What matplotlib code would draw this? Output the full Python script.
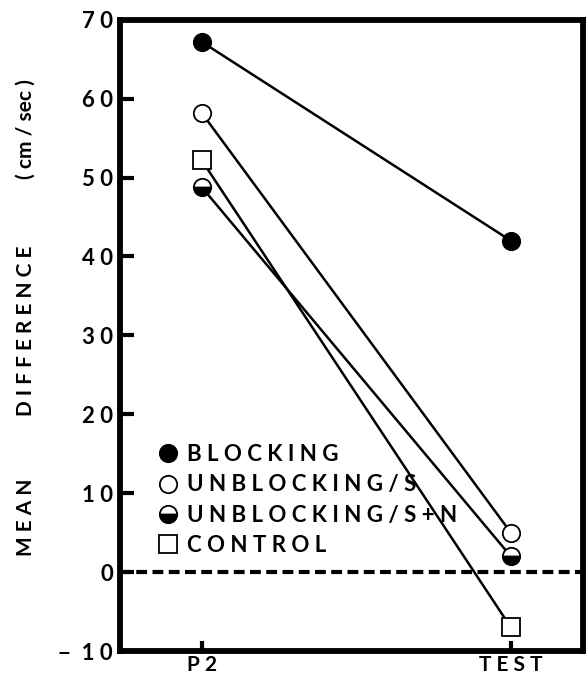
import numpy as np
import matplotlib
matplotlib.use('Agg')
import matplotlib.pyplot as plt
from matplotlib.lines import Line2D

plt.rcParams['font.family'] = ['Lato', 'DejaVu Sans']
plt.rcParams['font.weight'] = 'bold'

# Data
phases = ['P 2', 'T E S T']
blocking = [67.2, 42.0]
unblocking_s = [58.2, 5.0]
unblocking_sn = [48.8, 2.0]
control = [52.2, -7.0]

yticks = [-10, 0, 10, 20, 30, 40, 50, 60, 70]
ytick_labels = ['\u2212  1 0', '0', '1 0', '2 0', '3 0', '4 0', '5 0', '6 0', '7 0']
legend_labels = ['B L O C K I N G', 'U N B L O C K I N G / S',
                 'U N B L O C K I N G / S + N', 'C O N T R O L']

fig = plt.figure(figsize=(5.87, 6.81), dpi=100)
ax = fig.add_axes([0.204, 0.044, 0.789, 0.927])

xpos = np.arange(len(phases))
lw = 1.8
ms = 12.5
mew = 1.3

ax.plot(xpos, unblocking_sn, color='black', lw=lw, marker='o', ms=ms,
        mfc='black', mfcalt='white', fillstyle='bottom', mec='black', mew=mew, zorder=3)
ax.plot(xpos, control, color='black', lw=lw, marker='s', ms=ms,
        mfc='white', mec='black', mew=mew, zorder=3)
ax.plot(xpos, unblocking_s, color='black', lw=lw, marker='o', ms=ms,
        mfc='white', mec='black', mew=mew, zorder=3)
ax.plot(xpos, blocking, color='black', lw=lw, marker='o', ms=ms,
        mfc='black', mec='black', mew=mew, zorder=3)

ax.axhline(0, color='black', lw=3.0, ls=(0, (2.6, 1.3)), zorder=2)

ax.set_xlim(-0.265, 1.233)
ax.set_ylim(-10, 70)
ax.set_xticks(xpos)
ax.set_xticklabels(phases, fontsize=15)
ax.set_yticks(yticks)
ax.set_yticklabels(ytick_labels, fontsize=16)

for sp in ax.spines.values():
    sp.set_linewidth(4.2)
ax.tick_params(axis='y', direction='in', length=10, width=3, pad=5)
ax.tick_params(axis='x', direction='in', length=7, width=3, pad=3)

# y label, words spaced as in the original
ylab_kw = dict(rotation=90, fontsize=15, ha='center', va='center')
fig.text(0.044, 1 - 517 / 681, 'M E A N', **ylab_kw)
fig.text(0.044, 1 - 331 / 681, 'D I F F E R E N C E', **ylab_kw)
fig.text(0.044, 1 - 129 / 681, '( cm / sec )', **ylab_kw)

handles = [
    Line2D([], [], ls='none', marker='o', ms=ms, mfc='black', mec='black', mew=mew),
    Line2D([], [], ls='none', marker='o', ms=ms, mfc='white', mec='black', mew=mew),
    Line2D([], [], ls='none', marker='o', ms=ms, mfc='black', mfcalt='white',
           fillstyle='bottom', mec='black', mew=mew),
    Line2D([], [], ls='none', marker='s', ms=ms, mfc='white', mec='black', mew=mew),
]
ax.legend(handles, legend_labels, loc='upper left', bbox_to_anchor=(0.083, 0.328),
          frameon=False, fontsize=16, handlelength=0.9, handletextpad=0.4,
          labelspacing=0.42, borderaxespad=0, borderpad=0)

plt.savefig('out.png', dpi=100)
